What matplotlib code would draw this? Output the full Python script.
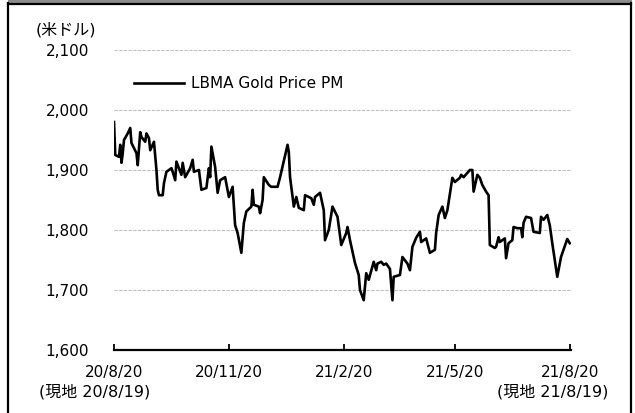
import matplotlib.pyplot as plt
from matplotlib.lines import Line2D
from matplotlib.patches import Rectangle
import pandas as pd

plt.rcParams['font.family'] = ['DejaVu Sans', 'Noto Sans CJK JP']

# LBMA Gold Price PM (USD)
dates = [
    '2020-08-20', '2020-08-21', '2020-08-24', '2020-08-25', '2020-08-26', '2020-08-27',
    '2020-08-28', '2020-08-31', '2020-09-02', '2020-09-03', '2020-09-07', '2020-09-08',
    '2020-09-10', '2020-09-11', '2020-09-14', '2020-09-15', '2020-09-17', '2020-09-18',
    '2020-09-21', '2020-09-23', '2020-09-24', '2020-09-25', '2020-09-28', '2020-09-29',
    '2020-10-01', '2020-10-05', '2020-10-06', '2020-10-08', '2020-10-09', '2020-10-13',
    '2020-10-14', '2020-10-16', '2020-10-20', '2020-10-22', '2020-10-23', '2020-10-27',
    '2020-10-29', '2020-11-02', '2020-11-04', '2020-11-05', '2020-11-06', '2020-11-09',
    '2020-11-11', '2020-11-13', '2020-11-17', '2020-11-20', '2020-11-23', '2020-11-25',
    '2020-11-27', '2020-11-30', '2020-12-02', '2020-12-04', '2020-12-08', '2020-12-09',
    '2020-12-10', '2020-12-14', '2020-12-15', '2020-12-17', '2020-12-18', '2020-12-22',
    '2020-12-24', '2020-12-29', '2020-12-31', '2021-01-06', '2021-01-07', '2021-01-08',
    '2021-01-11', '2021-01-13', '2021-01-15', '2021-01-19', '2021-01-20', '2021-01-25',
    '2021-01-27', '2021-01-28', '2021-02-01', '2021-02-04', '2021-02-05', '2021-02-08',
    '2021-02-11', '2021-02-15', '2021-02-18', '2021-02-22', '2021-02-23', '2021-02-25',
    '2021-03-01', '2021-03-04', '2021-03-05', '2021-03-08', '2021-03-10', '2021-03-12',
    '2021-03-16', '2021-03-18', '2021-03-19', '2021-03-22', '2021-03-24', '2021-03-26',
    '2021-03-29', '2021-03-31', '2021-04-01', '2021-04-06', '2021-04-08', '2021-04-12',
    '2021-04-14', '2021-04-16', '2021-04-19', '2021-04-22', '2021-04-23', '2021-04-27',
    '2021-04-30', '2021-05-04', '2021-05-05', '2021-05-07', '2021-05-10', '2021-05-12',
    '2021-05-14', '2021-05-18', '2021-05-20', '2021-05-24', '2021-05-25', '2021-05-27',
    '2021-06-01', '2021-06-03', '2021-06-04', '2021-06-07', '2021-06-09', '2021-06-11',
    '2021-06-14', '2021-06-16', '2021-06-17', '2021-06-21', '2021-06-22', '2021-06-24',
    '2021-06-25', '2021-06-29', '2021-06-30', '2021-07-02', '2021-07-05', '2021-07-06',
    '2021-07-09', '2021-07-12', '2021-07-13', '2021-07-14', '2021-07-16', '2021-07-20',
    '2021-07-22', '2021-07-27', '2021-07-28', '2021-07-30', '2021-08-02', '2021-08-04',
    '2021-08-06', '2021-08-10', '2021-08-13', '2021-08-18', '2021-08-20',
]
prices = [
    1980, 1925, 1922, 1942, 1912, 1928,
    1950, 1961, 1970, 1945, 1928, 1908,
    1963, 1955, 1947, 1961, 1953, 1933,
    1947, 1900, 1867, 1858, 1858, 1878,
    1897, 1903, 1897, 1883, 1914, 1892,
    1912, 1888, 1903, 1917, 1897, 1900,
    1867, 1870, 1903, 1888, 1939, 1905,
    1862, 1883, 1888, 1855, 1872, 1808,
    1795, 1762, 1812, 1831, 1839, 1867,
    1842, 1839, 1828, 1850, 1888, 1875,
    1872, 1872, 1888, 1942, 1930, 1888,
    1839, 1855, 1837, 1833, 1858, 1853,
    1842, 1855, 1862, 1833, 1783, 1800,
    1839, 1822, 1775, 1795, 1805, 1783,
    1745, 1725, 1700, 1683, 1728, 1717,
    1747, 1733, 1744, 1747, 1742, 1744,
    1735, 1683, 1722, 1725, 1755, 1744,
    1733, 1772, 1787, 1797, 1780, 1786,
    1762, 1767, 1795, 1825, 1839, 1820,
    1833, 1887, 1880, 1887, 1892, 1888,
    1900, 1900, 1864, 1892, 1887, 1875,
    1864, 1858, 1775, 1770, 1772, 1788,
    1780, 1786, 1753, 1778, 1783, 1805,
    1803, 1803, 1788, 1812, 1822, 1820,
    1797, 1795, 1822, 1817, 1825, 1808,
    1778, 1722, 1755, 1785, 1778,
]

tick_dates = ['2020-08-20', '2020-11-20', '2021-02-20', '2021-05-20', '2021-08-20']
tick_labels = ['20/8/20', '20/11/20', '21/2/20', '21/5/20', '21/8/20']
local_labels = ['(現地 20/8/19)', '(現地 21/8/19)']
y_ticks = [1600, 1700, 1800, 1900, 2000, 2100]

x = pd.to_datetime(dates)
xt = pd.to_datetime(tick_dates)

fig = plt.figure(figsize=(6.35, 4.13), dpi=100)
ax = fig.add_axes([114 / 635, 1 - 350 / 413, (571 - 114) / 635, 300 / 413])

ax.plot(x, prices, color='black', lw=1.9, label='LBMA Gold Price PM', zorder=3)

ax.set_ylim(1600, 2100)
ax.set_xlim(xt[0], xt[-1] + pd.Timedelta(days=1))
ax.set_yticks(y_ticks)
ax.set_yticklabels([f'{v:,}' for v in y_ticks], fontsize=11)
for v in y_ticks[1:]:
    ax.axhline(v, color='#c0c0c0', lw=0.8, ls=(0, (3, 1.2)), zorder=1)

for s in ['top', 'right', 'left']:
    ax.spines[s].set_visible(False)
ax.spines['bottom'].set_linewidth(1.6)
ax.tick_params(axis='y', length=0, pad=18)
ax.set_xticks(xt)
ax.set_xticklabels(tick_labels, fontsize=11)
ax.tick_params(axis='x', direction='in', length=4, width=1.3, pad=11)

for d, txt, dx in [(xt[0], local_labels[0], -19), (xt[-1], local_labels[1], -17)]:
    ax.annotate(txt, xy=(d, 1600), xytext=(dx, -42), textcoords='offset pixels',
                ha='center', va='center', fontsize=11.5)

fig.text(36 / 635, 1 - 30 / 413, '(米ドル)', fontsize=11.5, ha='left', va='center')

ax.legend(loc='center left', bbox_to_anchor=(134 / 635, 1 - 84 / 413),
          bbox_transform=fig.transFigure, frameon=False, fontsize=11,
          handlelength=3.3, handletextpad=0.45, borderpad=0, borderaxespad=0)

# outer frame
fig.add_artist(Rectangle((8 / 635, 1 - 3 / 413), 624 / 635, 3 / 413,
                         transform=fig.transFigure, color='#8c8c8c', lw=0))
fig.add_artist(Line2D([8 / 635, 8 / 635], [0, 1 - 3 / 413], color='black', lw=1.6,
                      transform=fig.transFigure))
fig.add_artist(Line2D([631 / 635, 631 / 635], [0, 1 - 3 / 413], color='black', lw=1.6,
                      transform=fig.transFigure))
fig.add_artist(Line2D([8 / 635, 631 / 635], [1 - 4 / 413, 1 - 4 / 413], color='black',
                      lw=1.6, transform=fig.transFigure))

fig.savefig('out.png', dpi=100)
